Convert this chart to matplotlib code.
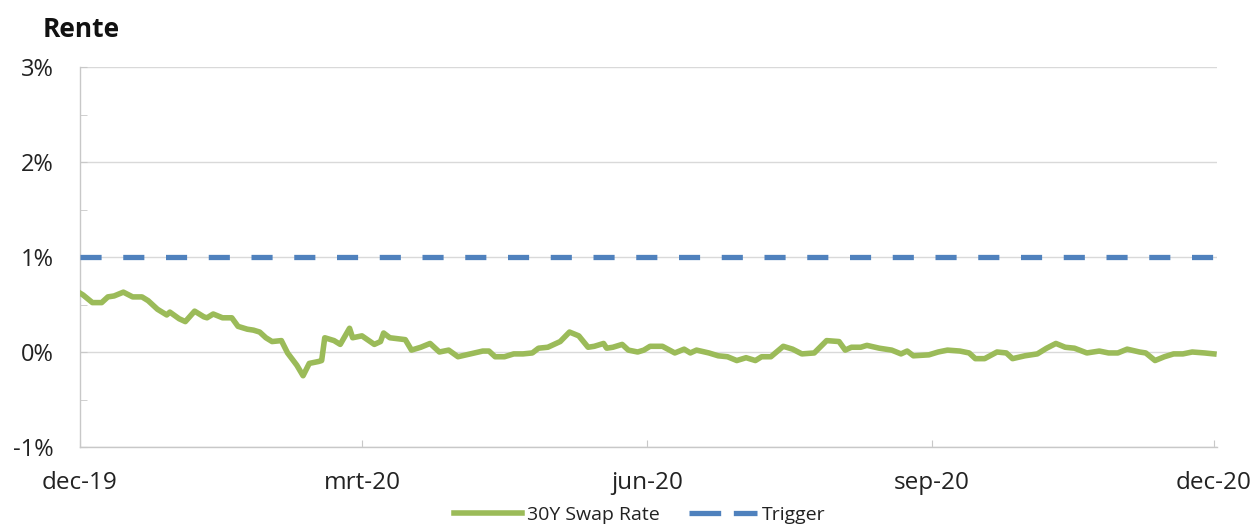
import numpy as np
import matplotlib
matplotlib.use('Agg')
import matplotlib.pyplot as plt
from matplotlib.lines import Line2D

plt.rcParams['font.family'] = ['Open Sans', 'DejaVu Sans']

# days after 1 Dec 2019, 30Y swap rate in %
days = [0, 1, 4, 7, 9, 11, 14, 17, 20, 22, 25, 28, 29, 32, 34, 37, 40, 41, 43, 46,
        49, 51, 54, 56, 58, 60, 62, 65, 67, 70, 72, 74, 77, 78, 79, 82, 84, 87, 88, 91,
        95, 97, 98, 100, 105, 107, 110, 113, 116, 119, 122, 126, 130, 132, 134, 137, 140, 143, 146, 148,
        151, 155, 158, 161, 164, 166, 169, 170, 172, 175, 177, 180, 182, 184, 188, 192, 195, 197, 199, 203,
        206, 209, 212, 215, 218, 220, 223, 227, 230, 233, 237, 241, 245, 247, 249, 252, 254, 258, 262, 265,
        267, 269, 274, 277, 280, 284, 287, 289, 292, 296, 299, 301, 305, 309, 312, 315, 318, 321, 325, 329,
        332, 335, 338, 342, 344, 347, 350, 353, 356, 359, 363, 366]
rate = [0.62, 0.60, 0.52, 0.52, 0.58, 0.59, 0.63, 0.58, 0.58, 0.54, 0.45, 0.39, 0.42, 0.35, 0.32, 0.43, 0.37, 0.36, 0.40, 0.36,
        0.36, 0.27, 0.24, 0.23, 0.21, 0.15, 0.11, 0.12, -0.01, -0.14, -0.25, -0.12, -0.10, -0.09, 0.15, 0.12, 0.08, 0.25, 0.15, 0.17,
        0.08, 0.11, 0.20, 0.15, 0.13, 0.02, 0.05, 0.09, 0.00, 0.02, -0.05, -0.02, 0.01, 0.01, -0.05, -0.05, -0.02, -0.02, -0.01, 0.04,
        0.05, 0.11, 0.21, 0.17, 0.05, 0.06, 0.09, 0.04, 0.05, 0.08, 0.02, 0.00, 0.02, 0.06, 0.06, -0.01, 0.03, -0.01, 0.02, -0.01,
        -0.04, -0.05, -0.09, -0.06, -0.09, -0.05, -0.05, 0.06, 0.03, -0.02, -0.01, 0.12, 0.11, 0.02, 0.05, 0.05, 0.07, 0.04, 0.02, -0.02,
        0.01, -0.04, -0.03, 0.00, 0.02, 0.01, -0.01, -0.07, -0.07, 0.00, -0.01, -0.07, -0.04, -0.02, 0.04, 0.09, 0.05, 0.04, -0.01, 0.01,
        -0.01, -0.01, 0.03, 0.00, -0.01, -0.09, -0.05, -0.02, -0.02, 0.00, -0.01, -0.02]
trigger = 1.0

tick_dates = ['2019-12-01', '2020-03-01', '2020-06-01', '2020-09-01', '2020-12-01']
tick_labels = ['dec-19', 'mrt-20', 'jun-20', 'sep-20', 'dec-20']
y_ticks = [-1, 0, 1, 2, 3]

start = np.datetime64('2019-12-01')
dates = start + np.array(days).astype('timedelta64[D]')

green = '#9BBB59'
blue = '#4F81BD'

fig = plt.figure(figsize=(12.54, 5.24), dpi=100)
ax = fig.add_axes([80 / 1254, 77 / 524, 1137 / 1254, 380 / 524])

ax.plot(dates, rate, color=green, lw=4, solid_joinstyle='round', zorder=3)
ax.plot(dates, [trigger] * len(dates), color=blue, lw=3.8, dashes=(4.0, 4.1),
        dash_capstyle='butt', zorder=3)

ax.set_ylim(-1, 3)
ax.set_yticks(y_ticks)
ax.set_yticklabels([f'{v}%' for v in y_ticks])
ax.set_yticks([-0.5, 0.5, 1.5, 2.5], minor=True)
ax.set_xlim(start, start + np.timedelta64(367, 'D'))
ax.set_xticks([np.datetime64(d) for d in tick_dates])
ax.set_xticklabels(tick_labels)

ax.grid(axis='y', color='#d9d9d9', lw=1)
ax.set_axisbelow(True)
for s in ['top', 'right']:
    ax.spines[s].set_visible(False)
for s in ['left', 'bottom']:
    ax.spines[s].set_color('#c8c8c8')
    ax.spines[s].set_linewidth(1)

ax.tick_params(axis='y', which='both', direction='in', length=5, color='#c8c8c8',
               pad=19, labelsize=17, labelcolor='#222222')
ax.tick_params(axis='x', direction='in', length=5, color='#c8c8c8',
               pad=17, labelsize=17.5, labelcolor='#222222')

fig.text(43 / 1254, 1 - 37 / 524, 'Rente', fontsize=19, fontweight='bold',
         color='#111111', va='baseline', ha='left')

handles = [Line2D([], [], color=green, lw=4),
           Line2D([], [], color=blue, lw=3.8, dashes=(6, 2.4), dash_capstyle='butt')]
fig.legend(handles, ['30Y Swap Rate', 'Trigger'], loc='center',
           bbox_to_anchor=(640 / 1254, 1 - 515 / 524), ncol=2, frameon=False,
           fontsize=14, handlelength=3.5, handletextpad=0.25, columnspacing=1.5,
           labelcolor='#222222')

fig.savefig('out.png', dpi=100)
